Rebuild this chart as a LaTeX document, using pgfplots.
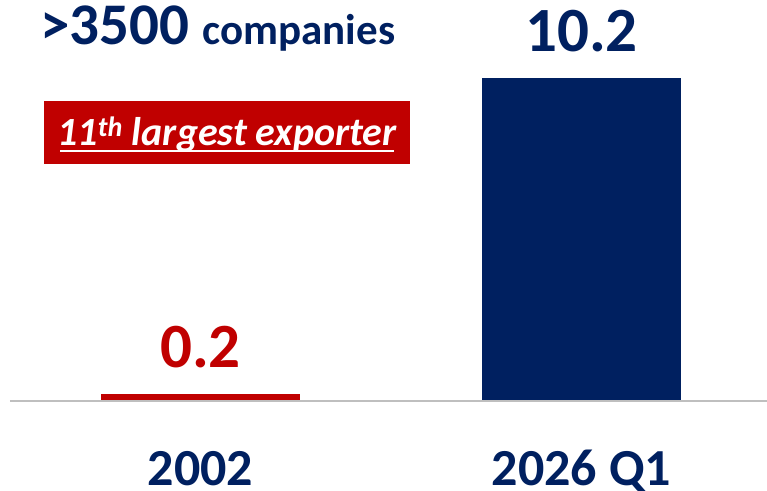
\documentclass[border=0pt]{standalone}
\usepackage{pgfplots}
\pgfplotsset{compat=1.18}
\usepackage{fontspec}
\setmainfont{Carlito}
\definecolor{navy}{HTML}{002060}
\definecolor{darkred}{HTML}{C00000}
\definecolor{basegray}{HTML}{BFBFBF}

\begin{document}
\begin{tikzpicture}
\begin{axis}[
    at={(10pt,90pt)}, anchor=south west,
    scale only axis,
    width=757pt, height=322pt,
    xmin=-0.5, xmax=1.487,
    ymin=0, ymax=10.2,
    clip=false,
    axis line style={draw=none},
    major tick length=0pt,
    ytick=\empty,
    xtick={0,1},
    xticklabels={2002, 2026 Q1},
    xticklabel style={font=\fontsize{52}{52}\selectfont\bfseries, text=navy, anchor=base, inner sep=0pt, yshift=-85pt},
    ybar, bar width=199pt, bar shift=0pt,
    nodes near coords,
    point meta=explicit symbolic,
    nodes near coords style={anchor=base, inner sep=0pt, yshift=26pt, font=\fontsize{63}{63}\selectfont\bfseries},
]
\addplot[fill=darkred, draw=none, every node near coord/.append style={text=darkred}]
    coordinates {(0,0.2) [0.2]};
\addplot[fill=navy, draw=none, every node near coord/.append style={text=navy}]
    coordinates {(1,10.2) [10.2]};
\draw[basegray, line width=2pt] ([yshift=-1pt]axis cs:-0.5,0) -- ([yshift=-1pt]axis cs:1.487,0);
\end{axis}

% headline and tag
\node[anchor=base west, inner sep=0pt, text=navy, font=\bfseries] at (40pt,445pt)
    {\fontsize{59}{59}\selectfont >3500 \fontsize{43}{43}\selectfont companies};
\node[fill=darkred, anchor=north west, inner sep=0pt, minimum width=366pt, minimum height=63pt] at (44pt,389pt) {};
\node[anchor=base, inner sep=0pt, text=white, font=\fontsize{40}{40}\selectfont\bfseries\itshape] at (227pt,344pt)
    {11\textsuperscript{th} largest exporter};
\draw[white, line width=2pt] (60pt,339pt) -- (394pt,339pt);

\pgfresetboundingbox
\path (0,0) rectangle (767pt,490pt);
\end{tikzpicture}
\end{document}
